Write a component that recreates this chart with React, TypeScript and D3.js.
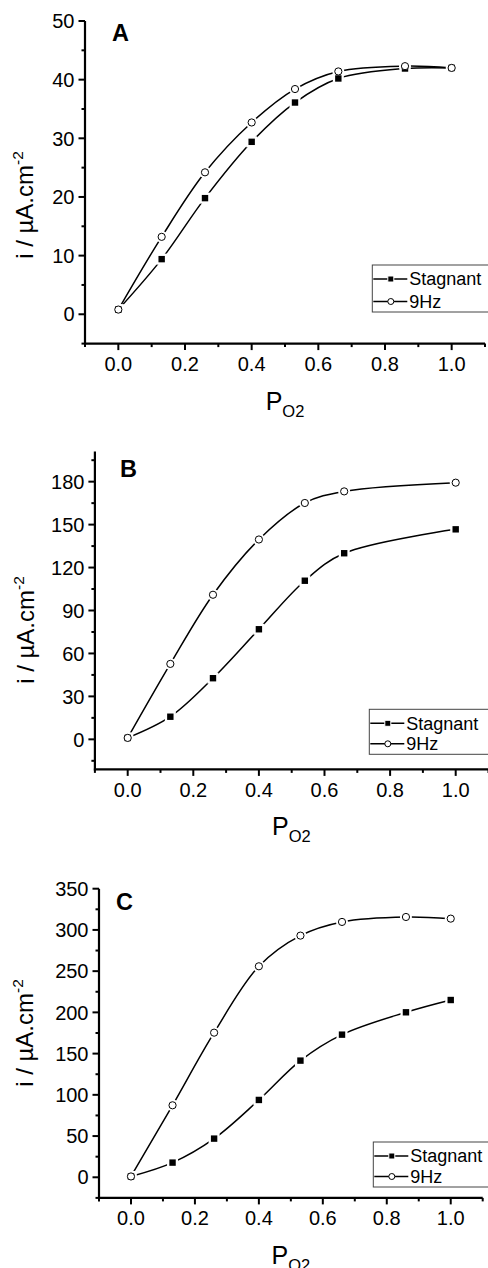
import React from 'react'
import * as d3 from 'd3'

// P(O2) fraction values and currents (µA/cm²)
const seriesNames = ['Stagnant', '9Hz']
const xTickValues = [0, 0.2, 0.4, 0.6, 0.8, 1.0]
const xMinorValues = [-0.1, 0.1, 0.3, 0.5, 0.7, 0.9, 1.1]

const pO2A = [0, 0.13, 0.26, 0.4, 0.53, 0.66, 0.86, 1.0]
const stagnantA = [0.8, 9.4, 19.8, 29.4, 36.1, 40.2, 41.9, 42.0]
const hz9A = [0.8, 13.2, 24.2, 32.7, 38.4, 41.4, 42.3, 42.0]
const yTicksA = [0, 10, 20, 30, 40, 50]
const yMinorA = [-5, 5, 15, 25, 35, 45]

const pO2B = [0, 0.13, 0.26, 0.4, 0.54, 0.66, 1.0]
const stagnantB = [1.0, 15.8, 42.7, 76.9, 110.8, 130.0, 146.7]
const hz9B = [1.0, 52.7, 101.0, 139.6, 165.1, 173.2, 179.3]
const yTicksB = [0, 30, 60, 90, 120, 150, 180]
const yMinorB = [-15, 15, 45, 75, 105, 135, 165, 195]

const pO2C = [0, 0.13, 0.26, 0.4, 0.53, 0.66, 0.86, 1.0]
const stagnantC = [1.0, 17.8, 46.9, 93.8, 141.5, 173.0, 200.1, 215.0]
const hz9C = [1.0, 87.3, 175.4, 255.9, 293.1, 309.7, 315.7, 313.7]
const yTicksC = [0, 50, 100, 150, 200, 250, 300, 350]
const yMinorC = [-25, 25, 75, 125, 175, 225, 275, 325]

const font = '"Liberation Sans", Arial, sans-serif'

const panels = [
  {
    letter: 'A', x: pO2A, s: stagnantA, h: hz9A, yTicks: yTicksA, yMinor: yMinorA,
    yDomain: [-5, 50], xRange: [85, 485], yRange: [343.6, 21],
    letterPos: [112, 40.7], yLabel: [33, 205], legend: [372.3, 265, 47]
  },
  {
    letter: 'B', x: pO2B, s: stagnantB, h: hz9B, yTicks: yTicksB, yMinor: yMinorB,
    yDomain: [-21, 201], xRange: [94.9, 488.5], yRange: [769.4, 451.6],
    letterPos: [120, 476.7], yLabel: [34, 630], legend: [369.3, 709.3, 45]
  },
  {
    letter: 'C', x: pO2C, s: stagnantC, h: hz9C, yTicks: yTicksC, yMinor: yMinorC,
    yDomain: [-25, 350], xRange: [99, 482.7], yRange: [1197.9, 888.7],
    letterPos: [116, 910], yLabel: [33, 1033], legend: [373.3, 1142, 45]
  }
]

const Panel = ({ p }) => {
  const x = d3.scaleLinear().domain([-0.1, 1.1]).range(p.xRange)
  const y = d3.scaleLinear().domain(p.yDomain).range(p.yRange)
  const line = d3.line()
    .x(d => x(d[0]))
    .y(d => y(d[1]))
    .curve(d3.curveCatmullRom.alpha(0.5))

  const sPts = p.x.map((v, i) => [v, p.s[i]])
  const hPts = p.x.map((v, i) => [v, p.h[i]])
  const x0 = p.xRange[0]
  const yb = p.yRange[0]
  const cx = (p.xRange[0] + Math.min(p.xRange[1], 488)) / 2
  const [lx, ly, lh] = p.legend

  return (
    <g>
      {/* curves */}
      <path d={line(sPts)} fill="none" stroke="#000" strokeWidth={1.5} />
      <path d={line(hPts)} fill="none" stroke="#000" strokeWidth={1.5} />

      {/* white gaps round the markers */}
      {sPts.map((d, i) => (
        <rect key={'sg' + i} x={x(d[0]) - 5.5} y={y(d[1]) - 5.5} width={11} height={11} fill="#fff" />
      ))}
      {hPts.map((d, i) => (
        <circle key={'hg' + i} cx={x(d[0])} cy={y(d[1])} r={6} fill="#fff" />
      ))}
      {sPts.map((d, i) => (
        <rect key={'s' + i} x={x(d[0]) - 3.2} y={y(d[1]) - 3.2} width={6.4} height={6.4} fill="#000" />
      ))}
      {hPts.map((d, i) => (
        <circle key={'h' + i} cx={x(d[0])} cy={y(d[1])} r={3.6} fill="#fff" stroke="#000" strokeWidth={1} />
      ))}

      {/* axes */}
      <line x1={x0} x2={x0} y1={p.yRange[1]} y2={yb + 1} stroke="#000" strokeWidth={2.2} />
      <line x1={x0 - 1} x2={p.xRange[1]} y1={yb} y2={yb} stroke="#000" strokeWidth={2.2} />
      {p.yTicks.map(t => (
        <g key={'yt' + t}>
          <line x1={x0 - 6.5} x2={x0} y1={y(t)} y2={y(t)} stroke="#000" strokeWidth={2} />
          <text x={x0 - 10.5} y={y(t)} dy="0.36em" textAnchor="end" fontSize={20} fontFamily={font}>{t}</text>
        </g>
      ))}
      {p.yMinor.map(t => (
        <line key={'ym' + t} x1={x0 - 3.5} x2={x0} y1={y(t)} y2={y(t)} stroke="#000" strokeWidth={2} />
      ))}
      {xTickValues.map(t => (
        <g key={'xt' + t}>
          <line x1={x(t)} x2={x(t)} y1={yb} y2={yb + 6.5} stroke="#000" strokeWidth={2} />
          <text x={x(t)} y={yb + 27.5} textAnchor="middle" fontSize={20} fontFamily={font}>{t.toFixed(1)}</text>
        </g>
      ))}
      {xMinorValues.map(t => (
        <line key={'xm' + t} x1={x(t)} x2={x(t)} y1={yb} y2={yb + 3.5} stroke="#000" strokeWidth={2} />
      ))}

      {/* labels */}
      <text x={p.letterPos[0]} y={p.letterPos[1]} fontSize={23.5} fontWeight="bold" fontFamily={font}>{p.letter}</text>
      <text x={cx} y={yb + 66} textAnchor="middle" fontFamily={font} fontSize={25}>
        P<tspan fontSize={16.5} dy={7}>O2</tspan>
      </text>
      <text transform={`translate(${p.yLabel[0]},${p.yLabel[1]}) rotate(-90)`} textAnchor="middle" fontFamily={font} fontSize={24}>
        i / µA.cm<tspan fontSize={15.5} dy={-10}>-2</tspan>
      </text>

      {/* legend */}
      <rect x={lx} y={ly} width={140} height={lh} fill="#fff" stroke="#444" strokeWidth={1} />
      {seriesNames.map((name, i) => {
        const ry = ly + (i === 0 ? 14 : lh - 10.5)
        return (
          <g key={name}>
            <line x1={lx + 1} x2={lx + 35} y1={ry} y2={ry} stroke="#000" strokeWidth={1.5} />
            {i === 0
              ? <rect x={lx + 15.5} y={ry - 3} width={6} height={6} fill="#000" stroke="#fff" strokeWidth={1} />
              : <circle cx={lx + 18.5} cy={ry} r={3} fill="#fff" stroke="#000" strokeWidth={1} />}
            <text x={lx + 37} y={ry} dy="0.36em" fontSize={18} fontFamily={font}>{name}</text>
          </g>
        )
      })}
    </g>
  )
}

const App = () => (
  <svg width={488} height={1268} style={{ position: 'absolute', left: 0, top: 0, background: '#fff' }}>
    <rect width={488} height={1268} fill="#fff" />
    {panels.map(p => <Panel key={p.letter} p={p} />)}
  </svg>
)

export default App
